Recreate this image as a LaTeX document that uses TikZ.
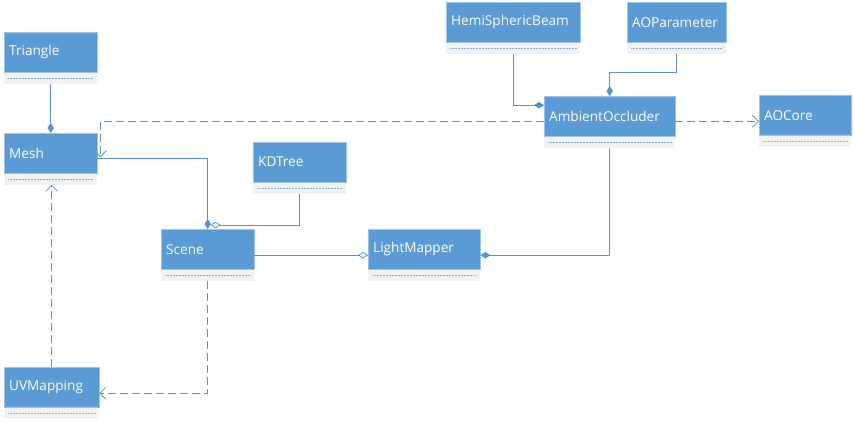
\documentclass[tikz,border=0pt]{standalone}
\usepackage{fontspec}
\setmainfont{Open Sans}
\usetikzlibrary{arrows.meta,positioning}

\definecolor{headblue}{HTML}{5B9BD5}
\definecolor{headedge}{HTML}{9DC3E6}
\definecolor{bodygray}{HTML}{F2F2F2}
\definecolor{linkblue}{HTML}{5B93D0}
\definecolor{dotblue}{HTML}{7FAEDC}

\tikzset{
  classhead/.style={draw=headedge,fill=headblue,text=white,minimum height=40pt,
    inner xsep=5pt,inner ysep=0pt,anchor=north west,align=left,
    font=\fontsize{13.6}{16}\selectfont},
  classbody/.style={fill=bodygray,minimum height=11pt,inner sep=0pt,anchor=north west},
  bodydots/.style={dotblue,line width=0.8pt,dash pattern=on 0.8pt off 0.7pt},
  link/.style={linkblue,line width=0.8pt},
  compo/.style={link,-{Diamond[length=10pt,width=6.5pt]}},
  aggr/.style={link,-{Diamond[open,fill=white,length=10pt,width=6.5pt]}},
  dep/.style={link,dash pattern=on 8pt off 4pt,-{Straight Barb[length=6pt,width=12pt]}},
}

% class box: name, x, top y, width, label
\newcommand{\umlclass}[5]{%
  \pgfmathsetmacro{\tw}{#4-10}
  \node[classhead,text width=\tw pt] (#1) at (#2,#3) {#5};
  \node[classbody,minimum width=#4pt] (#1-b) at (#1.south west) {};
  \draw[bodydots] ([xshift=4pt]#1-b.west) -- ([xshift=-4pt]#1-b.east);
}

\begin{document}
\begin{tikzpicture}[x=1pt,y=-1pt]
\useasboundingbox (0,0) rectangle (854,421);

% classes
\umlclass{tri}{4}{32}{93}{Triangle}
\umlclass{mesh}{4}{133}{93}{Mesh}
\umlclass{kd}{253}{142}{93}{KDTree}
\umlclass{scene}{161}{229}{93}{Scene}
\umlclass{lm}{368}{229}{112}{LightMapper}
\umlclass{hemi}{446}{2}{134}{HemiSphericBeam}
\umlclass{aop}{627}{2}{99}{AOParameter}
\umlclass{ao}{544}{96}{131}{AmbientOccluder}
\umlclass{aoc}{759}{95}{92}{AOCore}
\umlclass{uv}{4}{367}{95}{UVMapping}

\coordinate (kdend) at ([xshift=3pt,yshift=4pt]scene.north);
\coordinate (meshtip) at ([xshift=3pt,yshift=-4pt]mesh.east);

% composition / aggregation
\draw[compo] (tri-b.south) -- (mesh.north);
\draw[compo] ([yshift=-5pt]mesh.east) -| (scene.north);
\draw[aggr] (kd-b.south) |- (kdend);
\draw[aggr] ([yshift=-6pt]scene.east) -- ([yshift=-6pt]lm.west);
\draw[compo] (ao-b.south) |- ([yshift=-6pt]lm.east);
\draw[compo] (hemi-b.south) |- ([yshift=11pt]ao.west);
\draw[compo] (aop-b.south) -- ++(0,19) -| (ao.north);

% dependencies
\draw[dep] ([yshift=-5pt]ao.east) -- ([yshift=-5pt]ao.east -| aoc.west);
\draw[dep] ([yshift=-5pt]ao.west) -| (meshtip);
\draw[dep] (uv.north) -- (uv.north |- mesh-b.south);
\draw[dep] (scene-b.south) |- ([yshift=-6pt]uv.east);
\end{tikzpicture}
\end{document}
